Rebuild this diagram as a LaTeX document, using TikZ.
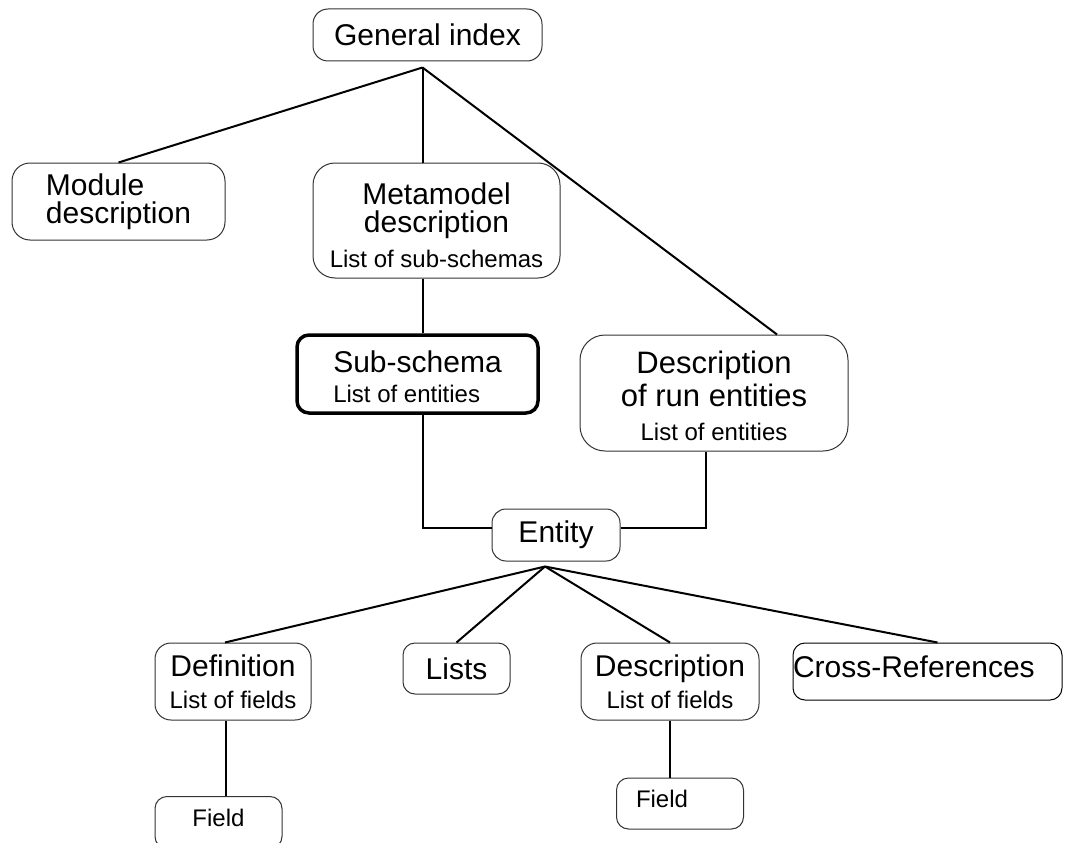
\documentclass[tikz,border=0pt]{standalone}
\usepackage{fontspec}
\setmainfont{Liberation Sans}
\usetikzlibrary{positioning}
\newcommand{\lgfont}{\fontsize{30}{28}\selectfont}
\newcommand{\smfont}{\fontsize{24}{26}\selectfont}

\begin{document}
\begin{tikzpicture}[x=1pt,y=-1pt,line width=2pt]
	\tikzstyle{box}=[draw=black!80,line width=1pt,rounded corners=15pt,inner sep=0pt,
		align=center,font=\lgfont]
	\tikzstyle{thickbox}=[box,draw=black,line width=3.5pt,rounded corners=12pt]
	\tikzstyle{fieldbox}=[box,font=\smfont,text depth=10pt,rounded corners=12pt,
		minimum width=127pt,minimum height=52pt]
	\clip (0,0) rectangle (1066,843);
	% upper part
	\node[box,minimum width=229pt,minimum height=52pt] (gen) at (427.5,35) {General index};
	\node[box,align=left,minimum width=213pt,minimum height=77pt,rounded corners=18pt] (mod) at (118.5,201.5) {Module\\description};
	\node[box,minimum width=247pt,minimum height=115pt,rounded corners=22pt] (meta) at (436.5,220.5)
		{\rule{0pt}{32pt}Metamodel\\description\\[7pt]{\smfont List of sub-schemas}};
	\node[thickbox,align=left,minimum width=241pt,minimum height=78pt] (sub) at (417.5,374)
		{\rule{0pt}{28pt}Sub-schema\\[2pt]{\smfont List of entities}};
	\node[box,minimum width=268pt,minimum height=116pt,rounded corners=25pt,font=\fontsize{31}{33}\selectfont] (run) at (714,393)
		{\rule{0pt}{29pt}Description\\of run entities\\[1pt]{\smfont List of entities}};
	\node[box,minimum width=128pt,minimum height=52pt,rounded corners=14pt] (ent) at (556,535) {Entity};
	% lower part
	\node[box,minimum width=156pt,minimum height=77pt,rounded corners=16pt] (def) at (233,681.5) {Definition\\[4pt]{\smfont List of fields}};
	\node[box,minimum width=107pt,minimum height=51pt,rounded corners=12pt] (lists) at (456.5,668.5) {Lists};
	\node[box,minimum width=178pt,minimum height=77pt,rounded corners=16pt] (desc) at (670,681.5) {Description\\[4pt]{\smfont List of fields}};
	\node[box,draw=black,text width=269pt,align=left,minimum height=57pt,rounded corners=12pt,text depth=10pt] (xref) at (927.5,671.5) {Cross-References};
	\node[fieldbox] (fld1) at (218.5,822.5) {Field};
	\node[fieldbox,text width=126pt,align=left,minimum height=51pt] (fld2) at (680,803.5) {\hspace*{19pt}Field};
	% connectors
	\coordinate (hubA) at ([xshift=-5pt,yshift=-6pt]gen.south);
	\coordinate (hubB) at ([xshift=-11pt,yshift=-5pt]ent.south);
	\path
	(hubA) edge (mod.north)
	(hubA) edge (hubA |- meta.north)
	(hubA) edge ([xshift=63pt]run.north)
	(hubA |- meta.south) edge (hubA |- sub.north)
	(hubB) edge ([xshift=-8pt]def.north)
	(hubB) edge (lists.north)
	(hubB) edge (desc.north)
	(hubB) edge ([xshift=10pt]xref.north)
	([xshift=-7pt]def.south) edge ([xshift=-7pt]def.south |- fld1.north)
	(desc.south) edge (desc.south |- fld2.north);
	\draw (hubA |- sub.south) |- ([yshift=7pt]ent.west);
	\draw ([yshift=7pt]ent.east) -| ([xshift=-8pt]run.south);
\end{tikzpicture}
\end{document}
